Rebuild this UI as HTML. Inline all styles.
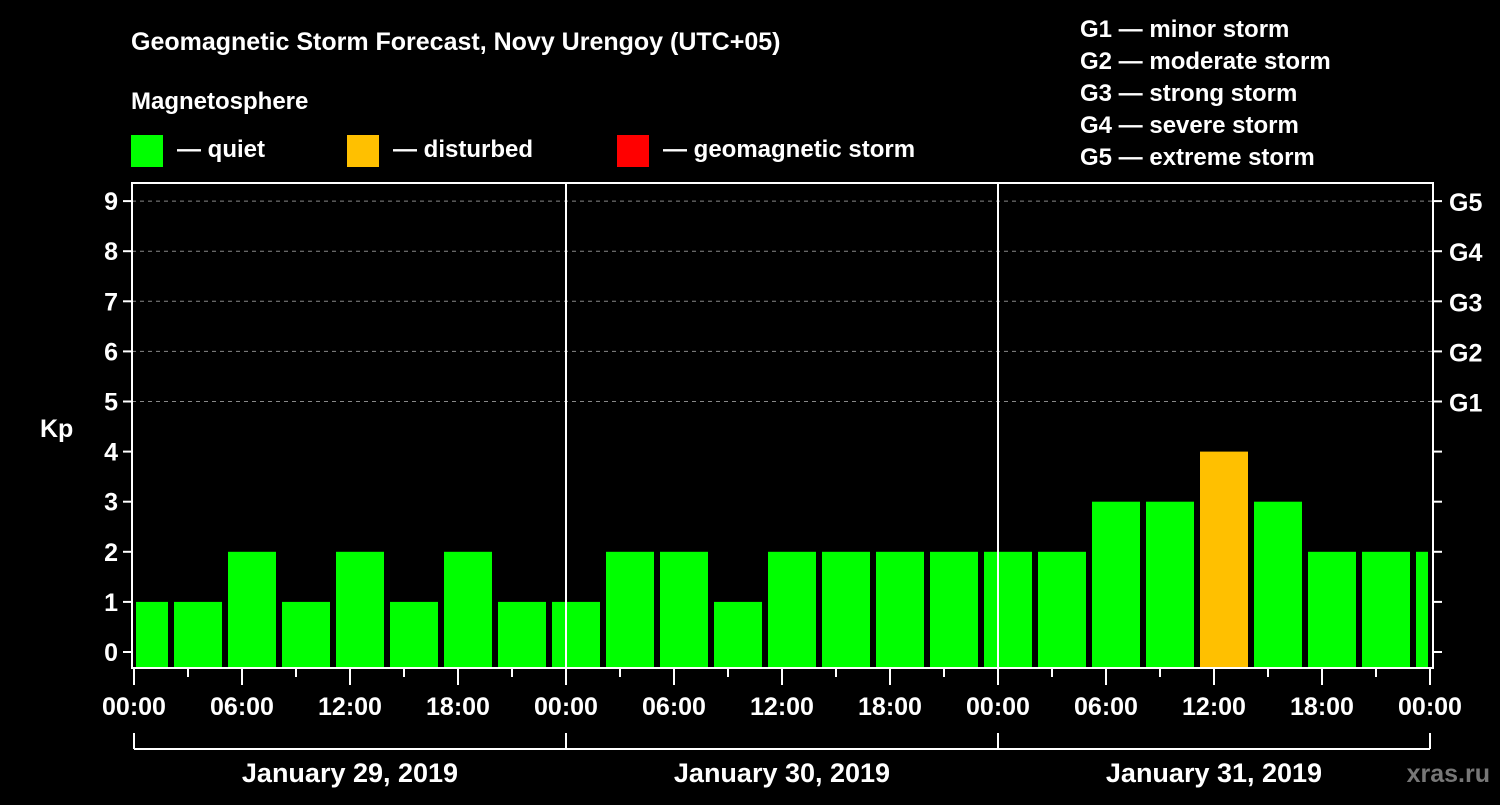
<!DOCTYPE html>
<html><head><meta charset="utf-8"><style>
body{margin:0;background:#000;width:1500px;height:800px;overflow:hidden}
svg text{font-family:"Liberation Sans",sans-serif;font-weight:bold;fill:#fff}
</style></head><body>
<svg id="c" width="1500" height="800">
<text x="131" y="50" font-size="25">Geomagnetic Storm Forecast, Novy Urengoy (UTC+05)</text>
<text x="131" y="109" font-size="24">Magnetosphere</text>
<g><rect x="131" y="135" width="32" height="32" fill="#00ff00"/><text x="177" y="157" font-size="24">— quiet</text></g>
<g><rect x="347" y="135" width="32" height="32" fill="#ffc000"/><text x="393" y="157" font-size="24">— disturbed</text></g>
<g><rect x="617" y="135" width="32" height="32" fill="#ff0000"/><text x="663" y="157" font-size="24">— geomagnetic storm</text></g>
<g font-size="24">
<text x="1080" y="37">G1 — minor storm</text><text x="1080" y="69">G2 — moderate storm</text><text x="1080" y="101">G3 — strong storm</text><text x="1080" y="133">G4 — severe storm</text><text x="1080" y="165">G5 — extreme storm</text></g>
<text x="40" y="437" font-size="25">Kp</text>
<text x="1490" y="782" font-size="25" text-anchor="end" fill="#777" style="fill:#777">xras.ru</text>
<g id="g"></g>
</svg>
<script>
const kpValues=[1,1,2,1,2,1,2,1,1,2,2,1,2,2,2,2,2,2,3,3,4,3,2,2,2];
const yTicks=[0,1,2,3,4,5,6,7,8,9];
const gLabels=["G1","G2","G3","G4","G5"];
const xTickLabels=["00:00","06:00","12:00","18:00","00:00","06:00","12:00","18:00","00:00","06:00","12:00","18:00","00:00"];
const dayLabels=["January 29, 2019","January 30, 2019","January 31, 2019"];
const NS="http://www.w3.org/2000/svg",g=document.getElementById('g');
const L=132,R=1433,T=183,B=668,X0=134,PX_H=18;
const y=v=>652-v*50.1, x=h=>X0+h*PX_H;
function el(t,a,txt){const e=document.createElementNS(NS,t);for(const k in a)e.setAttribute(k,a[k]);if(txt!==undefined)e.textContent=txt;g.appendChild(e);return e;}
yTicks.forEach(v=>{
 if(v>=5){const l=el('line',{x1:L,x2:R,y1:y(v),y2:y(v),stroke:'#888','stroke-dasharray':'4,4'});
 
 }
 el('line',{x1:L-9,x2:L,y1:y(v),y2:y(v),stroke:'#fff','stroke-width':2});
 el('line',{x1:R,x2:R+9,y1:y(v),y2:y(v),stroke:'#fff','stroke-width':2});
 const t=el('text',{x:L-14,y:y(v)+9,'font-size':25,'text-anchor':'end'},v);
 
 
});
gLabels.forEach((s,i)=>{const t=el('text',{x:1449,y:y(5+i)+10,'font-size':25},s);
 
 });
kpValues.forEach((v,i)=>{
 const c=x(i*3+10/6*0+0)+10; let x1=c-24+0,x2=c+24;
 x1=Math.max(x1,136);x2=Math.min(x2,1428);
 const col=v>=5?'#ff0000':v>=4?'#ffc000':'#00ff00';
 const b=el('rect',{x:x1,y:y(v),width:x2-x1,height:B-y(v),fill:col});
 
 
});
[1,2].forEach(d=>el('line',{x1:x(24*d),x2:x(24*d),y1:T,y2:B,stroke:'#fff','stroke-width':2}));
const f=el('rect',{x:L,y:T,width:R-L,height:B-T,fill:'none',stroke:'#fff','stroke-width':2});


for(let h=0;h<=72;h+=3){el('line',{x1:x(h),x2:x(h),y1:B,y2:B+(h%6?9:17),stroke:'#fff','stroke-width':2});}
xTickLabels.forEach((s,i)=>{const t=el('text',{x:x(i*6),y:715,'font-size':25,'text-anchor':'middle'},s);
 
 });
el('line',{x1:x(0),x2:x(72),y1:749,y2:749,stroke:'#fff','stroke-width':2});
for(let d=0;d<=3;d++)el('line',{x1:x(24*d),x2:x(24*d),y1:733,y2:749,stroke:'#fff','stroke-width':2});
dayLabels.forEach((s,i)=>{const t=el('text',{x:x(24*i+12),y:782,'font-size':27,'text-anchor':'middle'},s);
 
 });
</script>
</body></html>
